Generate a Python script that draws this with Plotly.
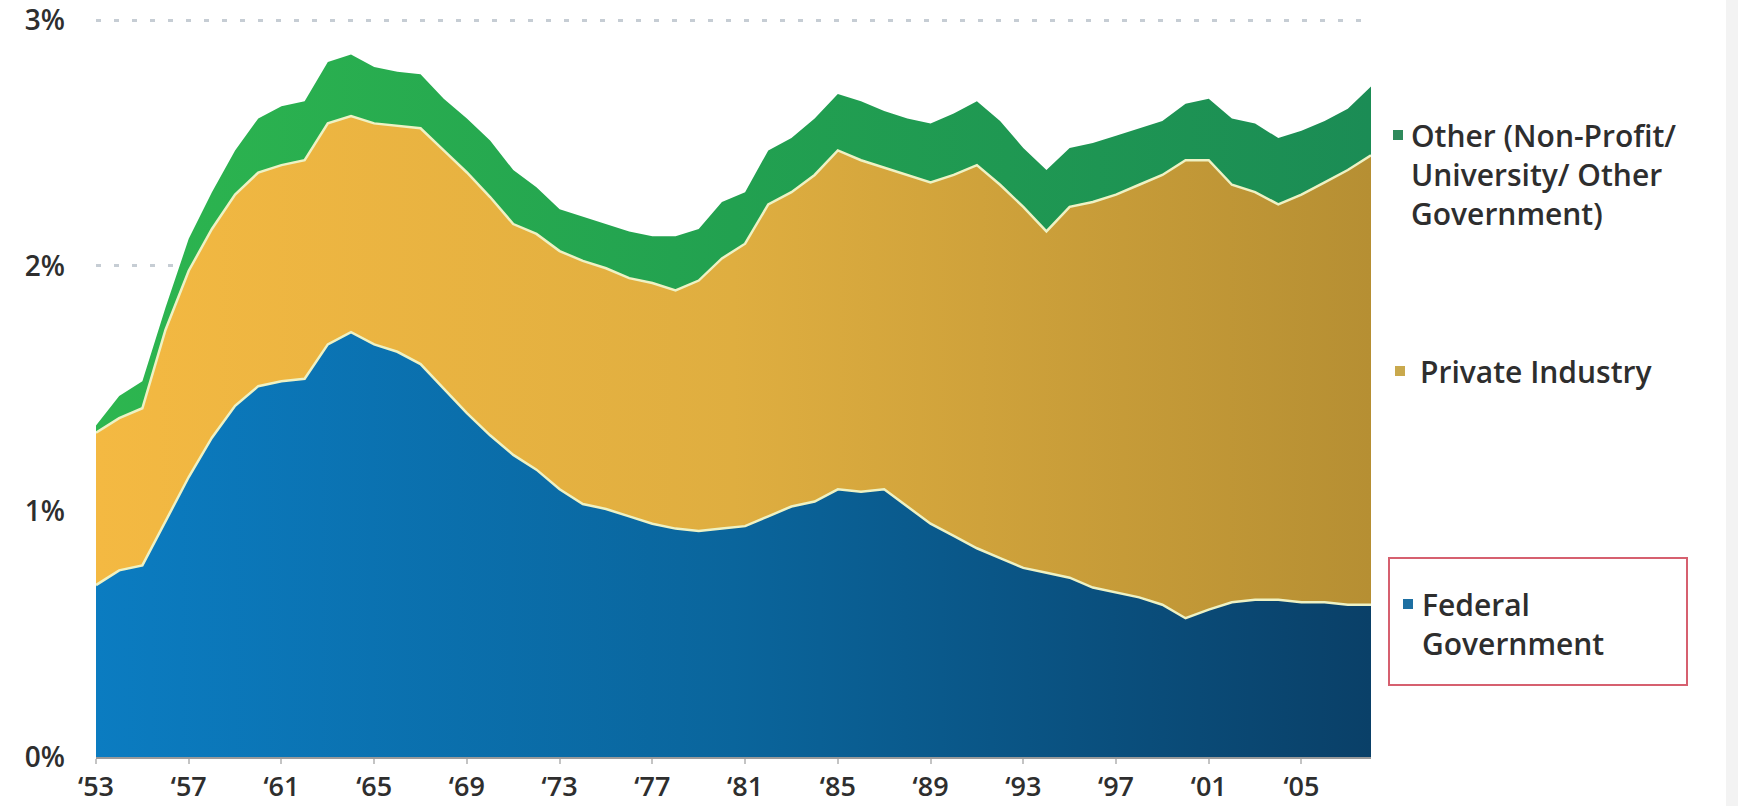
import plotly.graph_objects as go

years = list(range(1953, 2009))

federal = [0.70, 0.76, 0.78, 0.96, 1.14, 1.30, 1.43, 1.51, 1.53, 1.54,
           1.68, 1.73, 1.68, 1.65, 1.60, 1.50, 1.40, 1.31, 1.23, 1.17,
           1.09, 1.03, 1.01, 0.98, 0.95, 0.93, 0.92, 0.93, 0.94, 0.98,
           1.02, 1.04, 1.09, 1.08, 1.09, 1.02, 0.95, 0.90, 0.85, 0.81,
           0.77, 0.75, 0.73, 0.69, 0.67, 0.65, 0.62, 0.565, 0.60, 0.63,
           0.64, 0.64, 0.63, 0.63, 0.62, 0.62]

private = [0.62, 0.62, 0.64, 0.78, 0.84, 0.85, 0.86, 0.87, 0.88, 0.89,
           0.90, 0.88, 0.90, 0.92, 0.96, 0.97, 0.98, 0.97, 0.94, 0.96,
           0.97, 0.99, 0.98, 0.97, 0.98, 0.97, 1.02, 1.10, 1.15, 1.27,
           1.28, 1.33, 1.38, 1.35, 1.31, 1.35, 1.39, 1.47, 1.56, 1.52,
           1.47, 1.39, 1.51, 1.57, 1.62, 1.68, 1.75, 1.865, 1.83, 1.70,
           1.66, 1.61, 1.66, 1.71, 1.77, 1.83]

other = [0.03, 0.09, 0.11, 0.09, 0.13, 0.15, 0.18, 0.22, 0.24, 0.24,
         0.25, 0.25, 0.23, 0.22, 0.22, 0.21, 0.22, 0.23, 0.22, 0.19,
         0.17, 0.18, 0.18, 0.19, 0.19, 0.22, 0.21, 0.23, 0.21, 0.22,
         0.22, 0.23, 0.23, 0.24, 0.23, 0.23, 0.24, 0.25, 0.26, 0.26,
         0.24, 0.25, 0.24, 0.24, 0.24, 0.23, 0.22, 0.23, 0.25, 0.27,
         0.28, 0.27, 0.26, 0.25, 0.25, 0.28]

tick_years = list(range(1953, 2006, 4))
tick_labels = ["\u2018" + str(y)[2:] for y in tick_years]
y_ticks = [0, 1, 2, 3]
y_labels = ["0%", "1%", "2%", "3%"]

legend_other = "Other (Non-Profit/<br>University/ Other<br>Government)"
legend_private = "Private Industry"
legend_federal = "Federal<br>Government"

W, H = 1738, 806
L, R, T, B = 96, 367, 19, 49
PW, PH = W - L - R, H - T - B


def px(x):
    return (x - L) / PW


def py(y):
    return (H - B - y) / PH


FONT = "Open Sans"
sep_line = "#eef2c4"

fig = go.Figure()
fig.add_trace(go.Scatter(
    x=years, y=federal, stackgroup="s", mode="lines",
    line=dict(color=sep_line, width=2.5),
    fillgradient=dict(type="horizontal",
                      colorscale=[[0, "#0b7cc1"], [0.5, "#0a659c"], [1, "#0a4068"]]),
    hoverinfo="skip", showlegend=False))
fig.add_trace(go.Scatter(
    x=years, y=private, stackgroup="s", mode="lines",
    line=dict(color=sep_line, width=2.5),
    fillgradient=dict(type="horizontal",
                      colorscale=[[0, "#f4b942"], [0.5, "#dfae40"], [1, "#b68f33"]]),
    hoverinfo="skip", showlegend=False))
fig.add_trace(go.Scatter(
    x=years, y=other, stackgroup="s", mode="lines",
    line=dict(color="rgba(0,0,0,0)", width=0),
    fillgradient=dict(type="horizontal",
                      colorscale=[[0, "#2db64f"], [0.5, "#22a150"], [1, "#1b8c55"]]),
    hoverinfo="skip", showlegend=False))

shapes = []
ann = []

# legend squares
for cx, cy, col in [(1398, 135, "#2f8a5c"), (1400, 371, "#c9a94d"), (1408, 604, "#1d6fa2")]:
    s = 5
    shapes.append(dict(type="rect", xref="paper", yref="paper",
                       x0=px(cx - s), x1=px(cx + s), y0=py(cy + s), y1=py(cy - s),
                       fillcolor=col, line=dict(width=0)))

# red box around Federal Government
shapes.append(dict(type="rect", xref="paper", yref="paper",
                   x0=px(1389), x1=px(1687), y0=py(685), y1=py(558),
                   fillcolor="rgba(0,0,0,0)", line=dict(color="#d6606f", width=2)))

# light strip at right edge
shapes.append(dict(type="rect", xref="paper", yref="paper", layer="below",
                   x0=px(1726), x1=px(1738), y0=py(806), y1=py(0),
                   fillcolor="#f3f3f3", line=dict(width=0)))

tf = dict(family=FONT, size=30, color="#2e2e2e", weight=600)
ann.append(dict(xref="paper", yref="paper", x=px(1409), y=py(113),
                xanchor="left", yanchor="top", align="left", showarrow=False,
                text=legend_other, font=tf))
ann.append(dict(xref="paper", yref="paper", x=px(1418), y=py(371),
                xanchor="left", yanchor="middle", align="left", showarrow=False,
                text=legend_private, font=tf))
ann.append(dict(xref="paper", yref="paper", x=px(1420), y=py(582),
                xanchor="left", yanchor="top", align="left", showarrow=False,
                text=legend_federal, font=tf))

fig.update_layout(
    width=W, height=H,
    margin=dict(l=L, r=R, t=T, b=B, autoexpand=False),
    paper_bgcolor="white", plot_bgcolor="white",
    shapes=shapes, annotations=ann,
    xaxis=dict(range=[1953, 2008], tickvals=tick_years, ticktext=tick_labels,
               automargin=False,
               showgrid=False, zeroline=False, showline=True,
               linecolor="#9a9a9a", linewidth=1.5,
               ticks="outside", ticklen=5, tickcolor="#c4c4c4", tickwidth=2,
               tickfont=dict(family=FONT, size=27, color="#2e2e2e", weight=600)),
    yaxis=dict(range=[0, 3.005], tickvals=y_ticks, ticktext=y_labels,
               automargin=False,
               showgrid=True, gridcolor="#c6cdd4", gridwidth=3, griddash="5px,13px",
               zeroline=False, showline=False, ticks="",
               ticklabelstandoff=30,
               tickfont=dict(family=FONT, size=28, color="#2e2e2e", weight=600)),
)

fig.write_html("out.html")
